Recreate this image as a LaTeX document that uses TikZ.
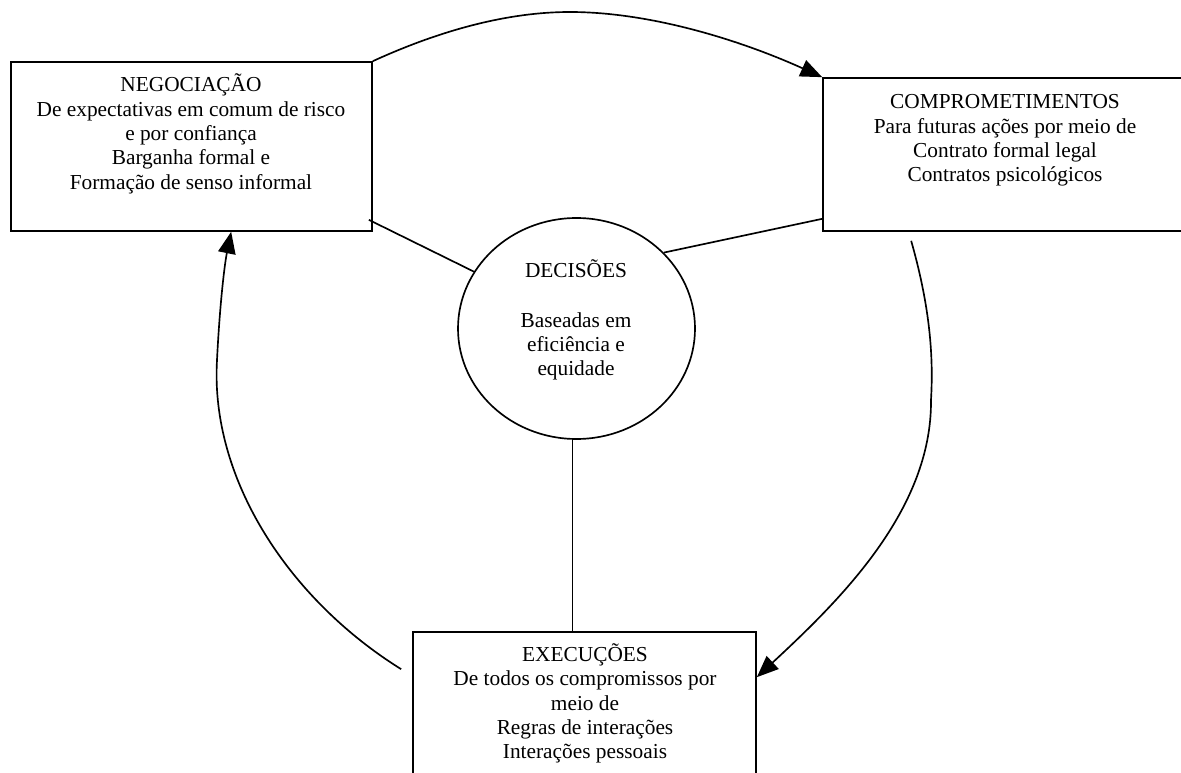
\documentclass[tikz,border=0pt]{standalone}
\usepackage{fontspec}
\setmainfont{Liberation Serif}
\usetikzlibrary{arrows.meta,shapes.geometric}

\tikzset{
  boxnode/.style={draw, line width=1pt, rectangle, inner sep=0pt},
  ovalnode/.style={draw, line width=1pt, ellipse, inner sep=0pt,
    minimum width=142.2pt, minimum height=132.6pt},
  txt/.style={align=center, inner sep=0pt,
    font=\fontsize{12.8pt}{14.6pt}\selectfont},
  link/.style={line width=1pt},
  flow/.style={line width=1pt, -{Triangle[length=13pt,width=10.5pt]}},
}

\begin{document}
\begin{tikzpicture}[x=0.6pt,y=-0.6pt]
  \useasboundingbox (0,0) rectangle (1181,773);
  \fill[white] (0,0) rectangle (1181,773);
  \clip (0,0) rectangle (1181,773);

  % boxes
  \node[boxnode, minimum width=216.6pt, minimum height=101.4pt] (neg) at (191.5,146.5) {};
  \node[boxnode, minimum width=218.4pt, minimum height=91.8pt] (comp) at (1005,154.5) {};
  \node[boxnode, minimum width=205.8pt, minimum height=108pt] (exe) at (584.5,722) {};
  \node[ovalnode] (dec) at (576.5,328.5) {};

  % texts
  \node[txt] (negtxt) at (191,134) {NEGOCIAÇÃO\\De expectativas em comum de risco\\e por confiança\\Barganha formal e\\Formação de senso informal};
  \node[txt] (comptxt) at (1005,140.7) {COMPROMETIMENTOS\\Para futuras ações por meio de\\Contrato formal legal\\Contratos psicológicos};
  \node[txt] (exetxt) at (585,703.5) {EXECUÇÕES\\De todos os compromissos por\\meio de\\Regras de interações\\Interações pessoais};
  \node[txt] (dectxt) at (576,319.8) {DECISÕES\\[15.4pt]Baseadas em\\eficiência e\\equidade};

  % connector end points
  \coordinate (negR) at ([xshift=-2.4pt,yshift=7.2pt]neg.south east);
  \coordinate (compL) at ([yshift=7.8pt]comp.south west);
  \coordinate (compB) at ([xshift=53.4pt,yshift=-5.4pt]comp.south west);
  \coordinate (exeR) at ([yshift=-27.6pt]exe.north east);
  \coordinate (exeL) at ([xshift=-6.6pt,yshift=-22.8pt]exe.north west);
  \coordinate (negB) at ([xshift=132.6pt]neg.south west);

  % links to the decision circle
  \draw[link] (negR) -- (dec.151);
  \draw[link] (compL) -- (dec.41);
  \draw[link] (dec.268) -- (dec.268 |- exe.north);

  % cycle arrows
  \draw[flow] (neg.north east) .. controls (430,35) and (500,12) .. (570,12)
                              .. controls (650,12) and (740,40) .. (comp.north west);
  \draw[flow] (compB) .. controls (928,300) and (934,350) .. (931,400)
                      .. controls (932,510) and (840,600) .. (exeR);
  \draw[flow] (exeL) .. controls (290,600) and (210,480) .. (217,360)
                     .. controls (220,300) and (225,262) .. (negB);
\end{tikzpicture}
\end{document}
